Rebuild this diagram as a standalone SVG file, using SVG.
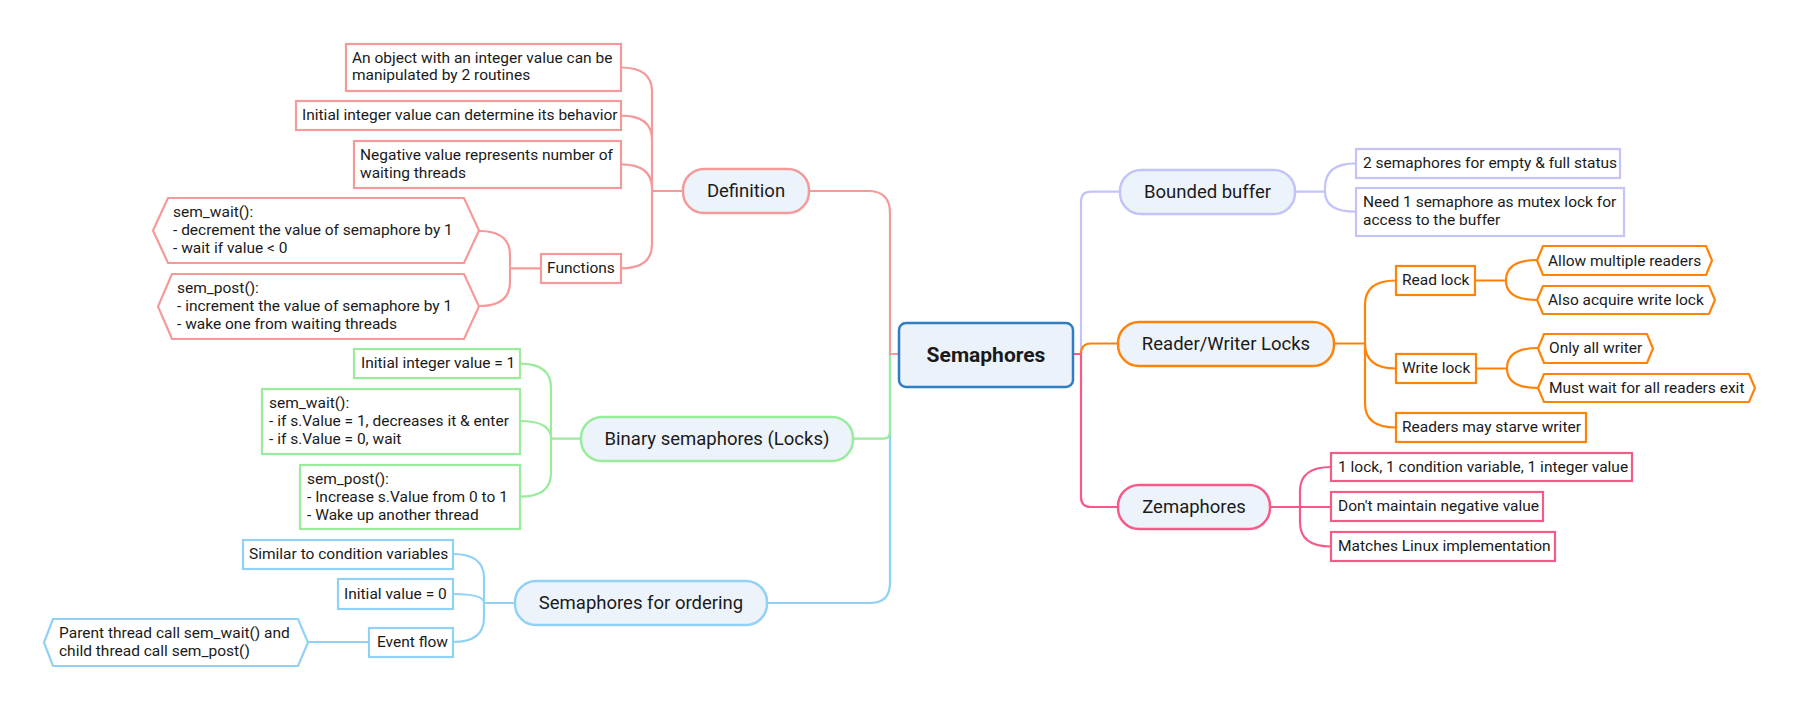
<svg xmlns="http://www.w3.org/2000/svg" width="1799" height="710" viewBox="0 0 1799 710">
<style>
text{font-family:Roboto,"Liberation Sans",sans-serif;fill:#1a1a1a}
.s{font-size:15.5px}
.m{font-size:18.5px;text-anchor:middle}
.c{font-size:21px;font-weight:bold;text-anchor:middle}
.b{fill:#fff;stroke-width:2.2}
.p{fill:#EDF3FA;stroke-width:2.5}
.l{fill:none;stroke-width:2.2}
.red{stroke:#F59A9A}.grn{stroke:#98EC9C}.blu{stroke:#92D1F6}.lav{stroke:#C3C3F8}.org{stroke:#FF8308}.pnk{stroke:#F65A86}
</style>
<rect width="1799" height="710" fill="#fff"/>
<g id="connectors">
<path class="l blu" d="M890 354 V583 Q890 603 870 603 H767"/>
<path class="l grn" d="M890 354 V431.7 Q890 438.7 883 438.7 H853"/>
<path class="l red" d="M899 354 H890 V213 Q890 191 868 191 H809"/>
<path class="l red" d="M683 191 H652 V91.5 Q652 67.5 621 67.5 M652 191 V139.7 Q652 115.7 621 115.7 M652 191 V188.3 Q652 164.3 621 164.3 M652 191 V244.3 Q652 268.3 621 268.3"/>
<path class="l red" d="M541 268.3 H510 M510 268.3 V255 Q510 231 479 231 M510 268.3 V282 Q510 306 479 306"/>
<path class="l grn" d="M581 438.7 H551 V387.7 Q551 363.7 520 363.7 M551 438.7 Q551 421 520 421 M551 438.7 V472.7 Q551 496.7 520 496.7"/>
<path class="l blu" d="M515 603 H484 V578 Q484 554 453 554 M484 603 Q484 594 453 594 M484 603 V618 Q484 642 453 642 M369 642 H308"/>
<path class="l lav" d="M1081 354 V202 Q1081 191.7 1091 191.7 H1120"/>
<path class="l lav" d="M1294 191.7 H1325 V187.3 Q1325 163.3 1356 163.3 M1325 191.7 Q1325 211.7 1356 211.7"/>
<path class="l org" d="M1081 354 Q1081 343.5 1091 343.5 H1118"/>
<path class="l org" d="M1334 343.5 H1365 V304.5 Q1365 280.5 1396 280.5 M1365 343.5 Q1365 368.5 1396 368.5 M1365 343.5 V403.5 Q1365 427.5 1396 427.5"/>
<path class="l org" d="M1475 280.5 H1506 Q1506 260 1537 260 M1506 280.5 Q1506 300 1537 300"/>
<path class="l org" d="M1476 368.5 H1507 Q1507 348 1538 348 M1507 368.5 Q1507 388 1538 388"/>
<path class="l pnk" d="M1073 354 H1081 V497 Q1081 507 1091 507 H1118"/>
<path class="l pnk" d="M1270 507 H1331 M1300 507 V491 Q1300 467 1331 467 M1300 507 V522.5 Q1300 546.5 1331 546.5"/>
</g>
<g id="root">
<rect x="899" y="323" width="174" height="64" rx="7" fill="#EBF2FA" stroke="#2F7DC3" stroke-width="2.5"/>
<text class="c" x="986" y="362">Semaphores</text>
</g>
<g id="definition">
<rect class="p red" x="683" y="169" width="126" height="44" rx="21"/>
<text class="m" x="746" y="197">Definition</text>
</g>
<g id="def-object">
<rect class="b red" x="346" y="44" width="275" height="47"/>
<text class="s" x="352" y="62.7">An object with an integer value can be</text>
<text class="s" x="352" y="80.3">manipulated by 2 routines</text>
</g>
<g id="def-initial">
<rect class="b red" x="296" y="101" width="325" height="29"/>
<text class="s" x="302" y="120">Initial integer value can determine its behavior</text>
</g>
<g id="def-negative">
<rect class="b red" x="354" y="141" width="267" height="47"/>
<text class="s" x="360" y="160">Negative value represents number of</text>
<text class="s" x="360" y="177.7">waiting threads</text>
</g>
<g id="def-functions">
<rect class="b red" x="541" y="254" width="80" height="29"/>
<text class="s" x="547" y="273">Functions</text>
</g>
<g id="fn-wait">
<polygon class="b red" points="153,230.5 168,198 464,198 479,230.5 464,263 168,263"/>
<text class="s" x="173" y="217">sem_wait():</text>
<text class="s" x="173" y="235">- decrement the value of semaphore by 1</text>
<text class="s" x="173" y="253">- wait if value &lt; 0</text>
</g>
<g id="fn-post">
<polygon class="b red" points="158,306.5 172,274 464,274 479,306.5 464,339 172,339"/>
<text class="s" x="177" y="293">sem_post():</text>
<text class="s" x="177" y="311">- increment the value of semaphore by 1</text>
<text class="s" x="177" y="329">- wake one from waiting threads</text>
</g>
<g id="binary">
<rect class="p grn" x="581" y="417" width="272" height="44" rx="21"/>
<text class="m" x="717" y="444.5">Binary semaphores (Locks)</text>
</g>
<g id="bin-initial">
<rect class="b grn" x="354" y="349" width="166" height="29"/>
<text class="s" x="361" y="368">Initial integer value = 1</text>
</g>
<g id="bin-wait">
<rect class="b grn" x="262" y="389" width="258" height="65"/>
<text class="s" x="269" y="408">sem_wait():</text>
<text class="s" x="269" y="426">- if s.Value = 1, decreases it &amp; enter</text>
<text class="s" x="269" y="444">- if s.Value = 0, wait</text>
</g>
<g id="bin-post">
<rect class="b grn" x="300" y="465" width="220" height="64"/>
<text class="s" x="307" y="484">sem_post():</text>
<text class="s" x="307" y="502">- Increase s.Value from 0 to 1</text>
<text class="s" x="307" y="519.5">- Wake up another thread</text>
</g>
<g id="ordering">
<rect class="p blu" x="515" y="581" width="252" height="44" rx="21"/>
<text class="m" x="641" y="608.5">Semaphores for ordering</text>
</g>
<g id="ord-similar">
<rect class="b blu" x="243" y="540" width="210" height="29"/>
<text class="s" x="249" y="559">Similar to condition variables</text>
</g>
<g id="ord-initial">
<rect class="b blu" x="338" y="579" width="115" height="30"/>
<text class="s" x="344" y="598.7">Initial value = 0</text>
</g>
<g id="ord-event">
<rect class="b blu" x="369" y="628" width="84" height="29"/>
<text class="s" x="377" y="647">Event flow</text>
</g>
<g id="ord-parent">
<polygon class="b blu" points="44,642.5 53,619 298,619 308,642.5 298,666 53,666"/>
<text class="s" x="59" y="638">Parent thread call sem_wait() and</text>
<text class="s" x="59" y="656">child thread call sem_post()</text>
</g>
<g id="bounded">
<rect class="p lav" x="1120" y="170" width="175" height="44" rx="21"/>
<text class="m" x="1207.5" y="197.5">Bounded buffer</text>
</g>
<g id="bb-two">
<rect class="b lav" x="1356" y="149" width="264" height="29"/>
<text class="s" x="1363" y="167.7">2 semaphores for empty &amp; full status</text>
</g>
<g id="bb-need">
<rect class="b lav" x="1356" y="188" width="268" height="48"/>
<text class="s" x="1363" y="207">Need 1 semaphore as mutex lock for</text>
<text class="s" x="1363" y="225">access to the buffer</text>
</g>
<g id="rwlocks">
<rect class="p org" x="1118" y="322" width="216" height="44" rx="21"/>
<text class="m" x="1226" y="349.5">Reader/Writer Locks</text>
</g>
<g id="rw-read">
<rect class="b org" x="1396" y="266" width="79" height="29"/>
<text class="s" x="1402" y="284.5">Read lock</text>
</g>
<g id="rw-write">
<rect class="b org" x="1396" y="354" width="80" height="29"/>
<text class="s" x="1402" y="372.5">Write lock</text>
</g>
<g id="rw-starve">
<rect class="b org" x="1396" y="413" width="190" height="29"/>
<text class="s" x="1402" y="432">Readers may starve writer</text>
</g>
<g id="rd-allow">
<polygon class="b org" points="1537,260.5 1543,246 1706,246 1712,260.5 1706,275 1543,275"/>
<text class="s" x="1548" y="265.5">Allow multiple readers</text>
</g>
<g id="rd-also">
<polygon class="b org" points="1537,300 1543,286 1709,286 1715,300 1709,314 1543,314"/>
<text class="s" x="1548" y="305">Also acquire write lock</text>
</g>
<g id="wr-only">
<polygon class="b org" points="1538,348.5 1544,334 1647,334 1653,348.5 1647,363 1544,363"/>
<text class="s" x="1549" y="353">Only all writer</text>
</g>
<g id="wr-must">
<polygon class="b org" points="1538,388 1544,374 1749,374 1755,388 1749,402 1544,402"/>
<text class="s" x="1549" y="392.7">Must wait for all readers exit</text>
</g>
<g id="zemaphores">
<rect class="p pnk" x="1118" y="485" width="152" height="44" rx="21"/>
<text class="m" x="1194" y="512.5">Zemaphores</text>
</g>
<g id="zem-lock">
<rect class="b pnk" x="1331" y="453" width="301" height="28"/>
<text class="s" x="1338" y="471.7">1 lock, 1 condition variable, 1 integer value</text>
</g>
<g id="zem-neg">
<rect class="b pnk" x="1331" y="492" width="212" height="29"/>
<text class="s" x="1338" y="511.3">Don't maintain negative value</text>
</g>
<g id="zem-linux">
<rect class="b pnk" x="1331" y="532" width="224" height="29"/>
<text class="s" x="1338" y="551">Matches Linux implementation</text>
</g>
</svg>
